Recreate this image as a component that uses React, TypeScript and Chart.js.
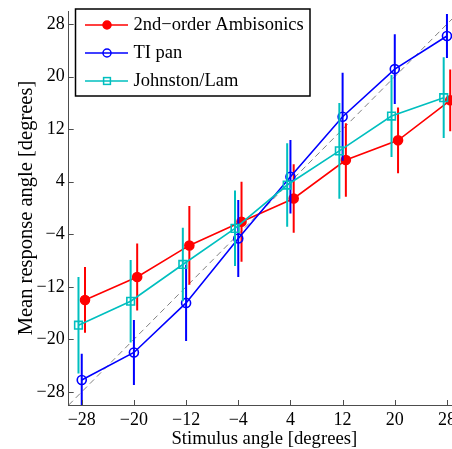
import React, { useEffect, useRef } from 'react';
import { Chart, registerables } from 'chart.js';

Chart.register(...registerables);

// ---------- data ----------
const stimulusAngles = [-28, -20, -12, -4, 4, 12, 20, 28];

const ambisonicsMean = [-14.0, -10.5, -5.7, -2.1, 1.45, 7.3, 10.3, 16.4];
const ambisonicsErr = [5.0, 5.1, 6.0, 6.1, 5.2, 5.6, 5.0, 4.7];

const tiPanMean = [-26.2, -22.0, -14.45, -4.65, 4.75, 13.9, 21.15, 26.2];
const tiPanErr = [4.0, 4.95, 5.8, 5.85, 5.6, 6.7, 5.3, 3.35];

const johnstonMean = [-17.85, -14.2, -8.6, -3.1, 3.5, 8.7, 14.0, 16.8];
const johnstonErr = [7.35, 6.3, 5.6, 5.75, 6.35, 7.3, 6.25, 6.15];

// horizontal jitter (degrees) used in the original to separate the series
const ambisonicsJitter = 0.5;
const tiPanJitter = 0;
const johnstonJitter = -0.5;

const axisTickValues = [-28, -20, -12, -4, 4, 12, 20, 28];
const axisMin = -30;
const axisMax = 30;

const seriesLabels = ['2nd\u2212order Ambisonics', 'TI pan', 'Johnston/Lam'];
const xTitle = 'Stimulus angle [degrees]';
const yTitle = 'Mean response angle [degrees]';

// ---------- helpers ----------
const FONT = "'Liberation Serif', 'Times New Roman', serif";
const AXIS_COLOR = '#4d4d4d';

const fmt = (v: number) => (v < 0 ? '\u2212' + Math.abs(v) : String(v));

const toPoints = (means: number[], jitter: number) =>
  stimulusAngles.map((a, i) => ({ x: a + jitter, y: means[i] }));

const errorBarPlugin = {
  id: 'errorBars',
  beforeDatasetDraw(chart: any, args: any) {
    const ds = chart.data.datasets[args.index];
    if (!ds.errors) return;
    const { ctx, chartArea, scales } = chart;
    ctx.save();
    ctx.beginPath();
    ctx.rect(chartArea.left, chartArea.top, chartArea.right - chartArea.left, chartArea.bottom - chartArea.top);
    ctx.clip();
    ctx.strokeStyle = ds.borderColor;
    ctx.lineWidth = 2;
    ds.data.forEach((p: any, i: number) => {
      const x = scales.x.getPixelForValue(p.x);
      const y1 = scales.y.getPixelForValue(p.y - ds.errors[i]);
      const y2 = scales.y.getPixelForValue(p.y + ds.errors[i]);
      ctx.beginPath();
      ctx.moveTo(x, y1);
      ctx.lineTo(x, y2);
      ctx.stroke();
    });
    ctx.restore();
  },
};

const innerTicksPlugin = {
  id: 'innerTicks',
  afterDraw(chart: any) {
    const { ctx, chartArea, scales } = chart;
    const len = 5;
    ctx.save();
    ctx.strokeStyle = AXIS_COLOR;
    ctx.lineWidth = 1;
    scales.x.ticks.forEach((t: any) => {
      const x = Math.round(scales.x.getPixelForValue(t.value)) + 0.5;
      ctx.beginPath();
      ctx.moveTo(x, chartArea.bottom);
      ctx.lineTo(x, chartArea.bottom - len);
      ctx.stroke();
    });
    scales.y.ticks.forEach((t: any) => {
      const y = Math.round(scales.y.getPixelForValue(t.value)) + 0.5;
      ctx.beginPath();
      ctx.moveTo(chartArea.left, y);
      ctx.lineTo(chartArea.left + len, y);
      ctx.stroke();
    });
    ctx.restore();
  },
};

const boxLegendPlugin = {
  id: 'boxLegend',
  afterDraw(chart: any) {
    const { ctx } = chart;
    const items = chart.data.datasets.filter((d: any) => d.inLegend);
    const left = 75.5;
    const top = 9;
    const width = 234.5;
    const height = 87;
    ctx.save();
    ctx.fillStyle = '#fff';
    ctx.fillRect(left, top, width, height);
    ctx.strokeStyle = '#000';
    ctx.lineWidth = 1.5;
    ctx.strokeRect(left, top, width, height);
    const rows = [25, 53, 81];
    items.forEach((d: any, i: number) => {
      const y = rows[i];
      ctx.strokeStyle = d.borderColor;
      ctx.lineWidth = 1.5;
      ctx.beginPath();
      ctx.moveTo(85, y);
      ctx.lineTo(128, y);
      ctx.stroke();
      const mx = 107;
      if (d.pointStyle === 'rect') {
        ctx.strokeRect(mx - 3.4, y - 3.4, 6.8, 6.8);
      } else {
        ctx.beginPath();
        ctx.arc(mx, y, 4, 0, Math.PI * 2);
        if (d.pointBackgroundColor !== 'rgba(0,0,0,0)') {
          ctx.fillStyle = d.pointBackgroundColor;
          ctx.fill();
        }
        ctx.stroke();
      }
      ctx.fillStyle = '#000';
      ctx.font = `18.5px ${FONT}`;
      ctx.textBaseline = 'middle';
      ctx.textAlign = 'left';
      ctx.fillText(d.label, 133.5, y + 0.5);
    });
    ctx.restore();
  },
};

export default function App() {
  const ref = useRef<HTMLCanvasElement | null>(null);

  useEffect(() => {
    document.body.style.overflow = 'hidden';
    const canvas = ref.current;
    if (!canvas) return;
    const chart = new Chart(canvas, {
      type: 'line',
      data: {
        datasets: [
          {
            label: seriesLabels[0],
            inLegend: true,
            data: toPoints(ambisonicsMean, ambisonicsJitter),
            errors: ambisonicsErr,
            borderColor: '#ff0000',
            backgroundColor: '#ff0000',
            pointBackgroundColor: '#ff0000',
            pointBorderColor: '#ff0000',
            pointStyle: 'circle',
            pointRadius: 4.5,
            borderWidth: 1.6,
            order: 3,
          } as any,
          {
            label: seriesLabels[1],
            inLegend: true,
            data: toPoints(tiPanMean, tiPanJitter),
            errors: tiPanErr,
            borderColor: '#0000ff',
            backgroundColor: '#0000ff',
            pointBackgroundColor: 'rgba(0,0,0,0)',
            pointBorderColor: '#0000ff',
            pointStyle: 'circle',
            pointRadius: 4.5,
            pointBorderWidth: 1.6,
            borderWidth: 1.6,
            order: 2,
          } as any,
          {
            label: seriesLabels[2],
            inLegend: true,
            data: toPoints(johnstonMean, johnstonJitter),
            errors: johnstonErr,
            borderColor: '#00bfbf',
            backgroundColor: '#00bfbf',
            pointBackgroundColor: 'rgba(0,0,0,0)',
            pointBorderColor: '#00bfbf',
            pointStyle: 'rect',
            pointRadius: 5.4,
            pointBorderWidth: 1.6,
            borderWidth: 1.6,
            order: 1,
          } as any,
          {
            label: 'identity',
            data: [
              { x: axisMin, y: axisMin },
              { x: axisMax, y: axisMax },
            ],
            borderColor: '#808080',
            borderWidth: 1,
            borderDash: [6, 4],
            pointRadius: 0,
            order: 4,
          } as any,
        ],
      },
      options: {
        animation: false,
        responsive: false,
        devicePixelRatio: 1,
        layout: { padding: { top: 11, right: 10, left: 0, bottom: 0 } },
        plugins: { legend: { display: false }, tooltip: { enabled: false } },
        scales: {
          x: {
            type: 'linear',
            min: axisMin,
            max: axisMax,
            afterBuildTicks: (s: any) => {
              s.ticks = axisTickValues.map((v) => ({ value: v }));
            },
            afterFit: (s: any) => {
              s.height = 44;
              s.paddingLeft = 0;
              s.paddingRight = 0;
            },
            ticks: {
              callback: (v: any) => fmt(Number(v)),
              font: { family: FONT, size: 18, lineHeight: 1.2 },
              color: '#000',
              padding: 4,
              maxRotation: 0,
              autoSkip: false,
            },
            grid: { display: false, drawTicks: false },
            border: { display: true, color: AXIS_COLOR, width: 1 },
            title: {
              display: true,
              text: xTitle,
              color: '#000',
              font: { family: FONT, size: 18.7, lineHeight: 1.1 },
              padding: { top: 0, bottom: 0 },
            },
          },
          y: {
            type: 'linear',
            min: axisMin,
            max: axisMax,
            afterBuildTicks: (s: any) => {
              s.ticks = axisTickValues.map((v) => ({ value: v }));
            },
            afterFit: (s: any) => {
              s.width = 68.7;
              s.paddingTop = 0;
              s.paddingBottom = 0;
            },
            ticks: {
              callback: (v: any) => fmt(Number(v)),
              font: { family: FONT, size: 18, lineHeight: 1.2 },
              color: '#000',
              padding: 4,
              autoSkip: false,
            },
            grid: { display: false, drawTicks: false },
            border: { display: true, color: AXIS_COLOR, width: 1 },
            title: {
              display: true,
              text: yTitle,
              color: '#000',
              font: { family: FONT, size: 20.5, lineHeight: 1.2 },
              padding: { top: 14.7, bottom: 0 },
            },
          },
        },
      } as any,
      plugins: [errorBarPlugin, innerTicksPlugin, boxLegendPlugin],
    });
    return () => chart.destroy();
  }, []);

  return (
    <div style={{ position: 'fixed', left: 0, top: 0, width: 470, height: 449, background: '#fff' }}>
      <canvas ref={ref} width={470} height={449} style={{ display: 'block', width: 470, height: 449 }} />
    </div>
  );
}
